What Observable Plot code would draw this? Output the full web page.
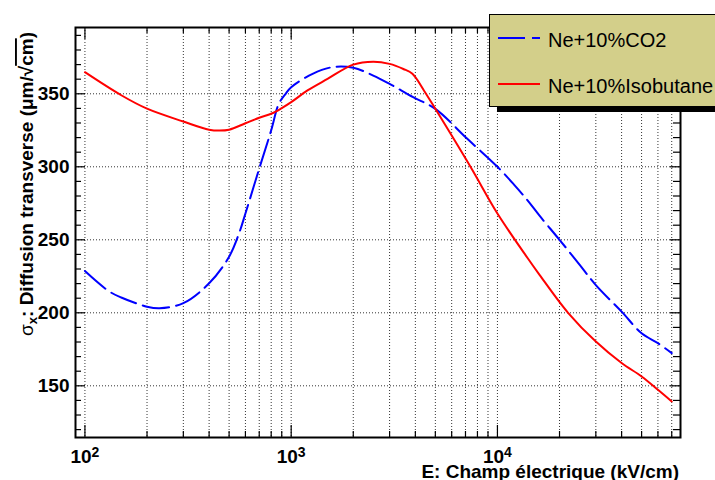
<!DOCTYPE html>
<html><head><meta charset="utf-8">
<script src="https://cdn.jsdelivr.net/npm/d3@7"></script>
<script src="https://cdn.jsdelivr.net/npm/@observablehq/plot@0.6"></script>
<style>
html,body{margin:0;padding:0;background:#fff;overflow:hidden;width:715px;height:480px}
#wrap{position:relative;width:715px;height:480px}
#legend{position:absolute;left:489px;top:14px;width:250px;height:93px;background:#d3cf8a;border:1px solid #000;box-shadow:8px 5px 0 #000;box-sizing:border-box}
#legend svg{position:absolute;left:-1px;top:-1px}
</style></head><body><div id="wrap"></div>
<script>
// ---- data ----
const seriesNames = ["Ne+10%CO2", "Ne+10%Isobutane"];
const seriesColors = ["#0000ff", "#ff0000"];
const seriesDash = ["27,7", null];

const fieldCO2 = [100, 130, 150, 200, 230, 300, 400, 500, 560, 600, 700, 800, 870, 940, 1000, 1270, 1580, 2000, 2500, 3000, 3900, 5000, 7100, 10000, 12000, 14000, 16000, 20000, 25000, 30000, 40000, 50000, 60000, 70000];
const sigmaCO2 = [228.6, 215, 210.5, 204.2, 203.1, 206.6, 220.2, 238.4, 254.8, 268, 298.8, 325, 343, 350, 354.5, 363.7, 368.2, 367.8, 362.5, 356.8, 347.7, 339.7, 319.5, 300, 288, 277, 266.5, 250, 233, 219, 200.8, 186, 179.2, 172.4];

const fieldIso = [100, 150, 200, 300, 400, 450, 500, 600, 700, 800, 900, 1000, 1200, 1500, 2000, 2500, 3000, 3500, 3870, 4400, 5000, 7400, 10000, 14000, 16000, 22000, 30000, 40000, 50000, 60000, 70000];
const sigmaIso = [364.8, 349, 339.8, 331, 325.4, 324.8, 325.4, 329.8, 333.6, 336.3, 340.2, 344.3, 352.3, 360.2, 370, 372, 370.5, 367, 363.7, 352.3, 339.7, 300, 268, 237.5, 226, 200, 180.3, 165.6, 156.4, 147.3, 139.3];

const xTickValues = [100, 1000, 10000];
const xTickExponents = ["2", "3", "4"];
const yTickValues = [150, 200, 250, 300, 350];
const xGridValues = [100,200,300,400,500,600,700,800,900,1000,2000,3000,4000,5000,6000,7000,8000,9000,10000,20000,30000,40000,50000,60000,70000];
const yMinorTicks = [120,130,140,160,170,180,190,210,220,230,240,260,270,280,290,310,320,330,340,360,370,380,390];
const xTitle = "E: Champ électrique (kV/cm)";
const yTitleParts = ["σ", "x", ": Diffusion transverse (μm/√", "cm", ")"];

// ---- layout ----
const W = 715, H = 480, mL = 75, mR = 35, mT = 27, mB = 43;
const fw = W - mL - mR, fh = H - mT - mB;
const font = "'Liberation Sans', Arial, Helvetica, sans-serif";

const co2Rows = fieldCO2.map((E, i) => ({E, s: sigmaCO2[i]}));
const isoRows = fieldIso.map((E, i) => ({E, s: sigmaIso[i]}));
const xMajorSet = new Set(xTickValues);
const xMinor = xGridValues.filter(v => !xMajorSet.has(v));

const svg = Plot.plot({
  width: W, height: H,
  marginLeft: mL, marginRight: mR, marginTop: mT, marginBottom: mB,
  style: {fontFamily: font, fontSize: "19px", fontWeight: "bold", background: "#fff", color: "#000"},
  x: {type: "log", domain: [90, 77200]},
  y: {domain: [114.6, 395.4]},
  marks: [
    Plot.ruleX(xGridValues, {x: d => d, stroke: "#000", strokeWidth: 1, strokeDasharray: "1,2", strokeOpacity: 0.8}),
    Plot.ruleY(yTickValues, {y: d => d, stroke: "#000", strokeWidth: 1, strokeDasharray: "1,2", strokeOpacity: 0.8}),
    // left / right y ticks
    Plot.tickY(yTickValues, {y: d => d, insetRight: fw - 10, stroke: "#000", strokeWidth: 1.2}),
    Plot.tickY(yMinorTicks, {y: d => d, insetRight: fw - 6, stroke: "#000", strokeWidth: 1.2}),
    Plot.tickY(yTickValues, {y: d => d, insetLeft: fw - 10, stroke: "#000", strokeWidth: 1.2}),
    Plot.tickY(yMinorTicks, {y: d => d, insetLeft: fw - 7, stroke: "#000", strokeWidth: 1.2}),
    // bottom / top x ticks
    Plot.tickX(xTickValues, {x: d => d, insetTop: fh - 12, stroke: "#000", strokeWidth: 1.2}),
    Plot.tickX(xMinor, {x: d => d, insetTop: fh - 6, stroke: "#000", strokeWidth: 1.2}),
    Plot.tickX(xTickValues, {x: d => d, insetBottom: fh - 12, stroke: "#000", strokeWidth: 1.2}),
    Plot.tickX(xMinor, {x: d => d, insetBottom: fh - 6, stroke: "#000", strokeWidth: 1.2}),
    Plot.line(co2Rows, {x: "E", y: "s", stroke: seriesColors[0], strokeWidth: 2, strokeDasharray: seriesDash[0], curve: "catmull-rom"}),
    Plot.line(isoRows, {x: "E", y: "s", stroke: seriesColors[1], strokeWidth: 2, curve: "catmull-rom"}),
    Plot.frame({stroke: "#000", strokeWidth: 2}),
    Plot.axisY(yTickValues, {tickSize: 0, tickPadding: 6, label: null, fontSize: 19, fontWeight: "bold"}),
    Plot.axisX(xTickValues, {tickSize: 0, tickPadding: 12, label: null, fontSize: 19, fontWeight: "bold",
      tickFormat: d => "10^" + xTickExponents[xTickValues.indexOf(d)]})
  ]
});

// superscript exponents on x tick labels
d3.select(svg).selectAll('g[aria-label="x-axis tick label"] text').each(function() {
  const t = d3.select(this);
  const parts = t.text().split("^");
  t.text(null);
  t.append("tspan").text(parts[0]);
  t.append("tspan").attr("font-size", 14).attr("dy", -6).text(parts[1]);
});

// axis titles
d3.select(svg).append("text")
  .attr("x", 679).attr("y", 478).attr("text-anchor", "end")
  .attr("font-size", 19).attr("font-weight", "bold").attr("font-family", font)
  .text(xTitle);

const yl = d3.select(svg).append("text")
  .attr("transform", "translate(33,32) rotate(-90)").attr("text-anchor", "end")
  .attr("font-size", 19).attr("font-weight", "bold").attr("font-family", font);
yl.append("tspan").attr("font-weight", "normal").text(yTitleParts[0]);
yl.append("tspan").attr("font-size", 13).attr("dy", 4).text(yTitleParts[1]);
yl.append("tspan").attr("dy", -4).text(yTitleParts[2]);
yl.append("tspan").style("text-decoration", "overline").text(yTitleParts[3]);
yl.append("tspan").text(yTitleParts[4]);

const wrap = document.getElementById("wrap");
wrap.appendChild(svg);

// legend
const leg = document.createElement("div");
leg.id = "legend";
wrap.appendChild(leg);
const ls = d3.select(leg).append("svg").attr("width", 250).attr("height", 95);
seriesNames.forEach((name, i) => {
  const cy = [24, 70][i];
  ls.append("line").attr("x1", 9).attr("x2", 51).attr("y1", cy).attr("y2", cy)
    .attr("stroke", seriesColors[i]).attr("stroke-width", 2)
    .attr("stroke-dasharray", seriesDash[i]);
  ls.append("text").attr("x", 59).attr("y", cy + 8.5)
    .attr("font-family", font).attr("font-size", 20).text(name);
});
</script>
</body></html>
